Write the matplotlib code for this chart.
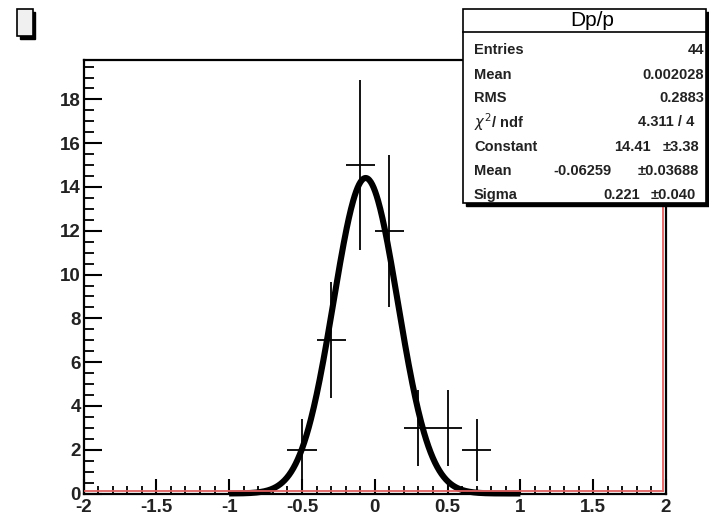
import numpy as np
import matplotlib
matplotlib.use("Agg")
import matplotlib.pyplot as plt
from matplotlib.patches import Rectangle
from matplotlib.lines import Line2D
from matplotlib.ticker import MultipleLocator

# ---- data ----
bin_centers = [-0.5, -0.3, -0.1, 0.1, 0.3, 0.5, 0.7]
counts = [2, 7, 15, 12, 3, 3, 2]
bin_half_width = 0.1
fit_constant = 14.41
fit_mean = -0.06259
fit_sigma = 0.221
fit_range = (-1.0, 1.0)
x_ticks = [-2, -1.5, -1, -0.5, 0, 0.5, 1, 1.5, 2]
x_tick_labels = ["-2", "-1.5", "-1", "-0.5", "0", "0.5", "1", "1.5", "2"]
y_ticks = [0, 2, 4, 6, 8, 10, 12, 14, 16, 18]
stats_title = "Dp/p"
stats_rows = [
    ("Entries", "44"),
    ("Mean", "0.002028"),
    ("RMS", "0.2883"),
]

W, H = 709, 515
fig = plt.figure(figsize=(W / 100, H / 100), dpi=100)
fig.patch.set_facecolor("white")

L, R, T, B = 83.5, 666, 60, 493.5
ax = fig.add_axes([L / W, 1 - B / H, (R - L) / W, (B - T) / H])
ax.set_xlim(-2, 2)
ax.set_ylim(0, 19.8)

errs = np.sqrt(np.array(counts, dtype=float))
ax.errorbar(bin_centers, counts, xerr=bin_half_width, yerr=errs, fmt="none",
            ecolor="black", elinewidth=1.3, capsize=0, zorder=3)

xf = np.linspace(fit_range[0], fit_range[1], 400)
yf = fit_constant * np.exp(-0.5 * ((xf - fit_mean) / fit_sigma) ** 2)
ax.plot(xf, yf, color="black", lw=4.4, solid_capstyle="butt", zorder=4, clip_on=False)

for s in ax.spines.values():
    s.set_linewidth(1.6)
    s.set_color("black")

ax.set_xticks(x_ticks)
ax.set_xticklabels(x_tick_labels)
ax.set_yticks(y_ticks)
ax.xaxis.set_minor_locator(MultipleLocator(0.1))
ax.yaxis.set_minor_locator(MultipleLocator(0.5))
ax.tick_params(axis="x", which="major", direction="in", length=11, width=1.5, pad=4)
ax.tick_params(axis="x", which="minor", direction="in", length=5.5, width=1.3)
ax.tick_params(axis="y", which="major", direction="in", length=13, width=1.5, pad=2)
ax.tick_params(axis="y", which="minor", direction="in", length=7.2, width=1.3)
ax.tick_params(top=False, right=False, which="both")
for lab in ax.get_xticklabels() + ax.get_yticklabels():
    lab.set_fontfamily("Liberation Sans")
    lab.set_fontweight("bold")
    lab.set_fontsize(13.5)
    lab.set_color("#222222")

# red inner frame lines (right and bottom)
def px(x, y):
    return (x / W, 1 - y / H)

fig.add_artist(Line2D([px(R - 3, 0)[0]] * 2, [px(0, T)[1], px(0, B - 2.5)[1]],
                      color="#e06060", lw=1.3, transform=fig.transFigure, zorder=10))
fig.add_artist(Line2D([px(L + 1.5, 0)[0], px(R - 3, 0)[0]], [px(0, B - 2.5)[1]] * 2,
                      color="#e06060", lw=1.3, transform=fig.transFigure, zorder=10))

# ---- stats box ----
bx0, by0, bx1, by1 = 463, 9, 706, 203
sh = 3
fig.add_artist(Rectangle(px(bx0 + sh, by1 + sh), (bx1 - bx0) / W, (by1 - by0) / H,
                         transform=fig.transFigure, facecolor="black", edgecolor="black",
                         zorder=20))
fig.add_artist(Rectangle(px(bx0, by1), (bx1 - bx0) / W, (by1 - by0) / H,
                         transform=fig.transFigure, facecolor="white", edgecolor="black",
                         lw=1.2, zorder=21))
fig.add_artist(Line2D([px(bx0, 0)[0], px(bx1, 0)[0]], [px(0, 32)[1]] * 2,
                      color="black", lw=1.2, transform=fig.transFigure, zorder=22))
fig.text(*px(592, 21), stats_title, ha="center", va="center", fontsize=15,
         family="Liberation Sans", zorder=23)

fs = 10.5
kw = dict(family="Liberation Sans", fontweight="bold", fontsize=fs, va="center",
          color="#222222", zorder=23)
row_y = [50, 75, 98, 122, 147, 171, 195]
for (lab, val), yy in zip(stats_rows, row_y[:3]):
    fig.text(*px(474, yy), lab, ha="left", **kw)
    fig.text(*px(704, yy), val, ha="right", **kw)
fig.text(*px(474, row_y[3]), r"$\chi^2$/ ndf", ha="left", **kw)
fig.text(*px(666, row_y[3]), "4.311 / 4", ha="center", **kw)
fig.text(*px(474, row_y[4]), "Constant", ha="left", **kw)
fig.text(*px(632, row_y[4]), "14.41", ha="center", **kw)
fig.text(*px(681, row_y[4]), "±3.38", ha="center", **kw)
fig.text(*px(474, row_y[5]), "Mean", ha="left", **kw)
fig.text(*px(582, row_y[5]), "-0.06259", ha="center", **kw)
fig.text(*px(668, row_y[5]), "±0.03688", ha="center", **kw)
fig.text(*px(474, row_y[6]), "Sigma", ha="left", **kw)
fig.text(*px(622, row_y[6]), "0.221", ha="center", **kw)
fig.text(*px(673, row_y[6]), "±0.040", ha="center", **kw)

# ---- empty title box top-left ----
fig.add_artist(Rectangle(px(19.5, 38.5), 15.5 / W, 27 / H, transform=fig.transFigure,
                         facecolor="black", edgecolor="black", zorder=20))
fig.add_artist(Rectangle(px(17, 36), 15.5 / W, 27 / H, transform=fig.transFigure,
                         facecolor="#f0f0f0", edgecolor="black", lw=1.2, zorder=21))

fig.savefig("out.png", dpi=100)
